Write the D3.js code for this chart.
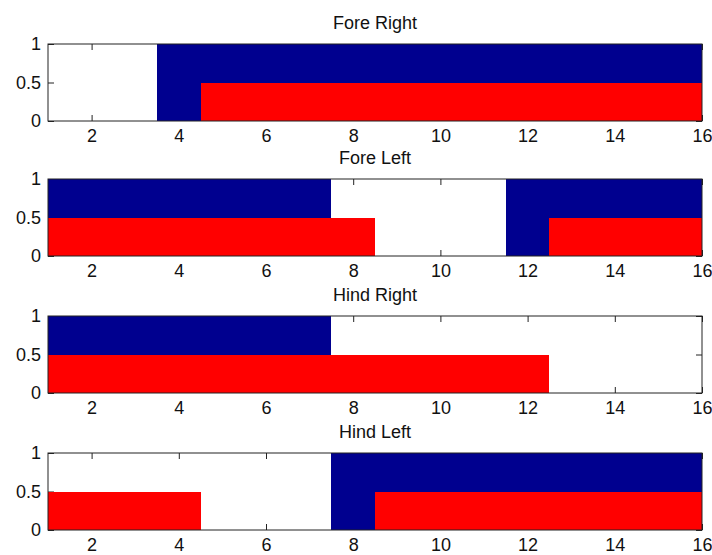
<!DOCTYPE html>
<html>
<head>
<meta charset="utf-8">
<script src="https://cdn.jsdelivr.net/npm/d3@7/dist/d3.min.js"></script>
<style>
  html, body { margin: 0; padding: 0; background: #fff; }
  svg { display: block; }
  text { font-family: "Liberation Sans", Arial, sans-serif; fill: #111; }
</style>
</head>
<body>
<svg id="chart" width="712" height="555"></svg>
<script>
// Step positions along the x axis (one bar per step)
const steps = [1, 2, 3, 4, 5, 6, 7, 8, 9, 10, 11, 12, 13, 14, 15, 16];

// Panel titles, one per limb
const panelTitles = ["Fore Right", "Fore Left", "Hind Right", "Hind Left"];

// Full-height (blue) series per limb
const blueForeRight = [0, 0, 0, 1, 1, 1, 1, 1, 1, 1, 1, 1, 1, 1, 1, 1];
const blueForeLeft  = [1, 1, 1, 1, 1, 1, 1, 0, 0, 0, 0, 1, 1, 1, 1, 1];
const blueHindRight = [1, 1, 1, 1, 1, 1, 1, 0, 0, 0, 0, 0, 0, 0, 0, 0];
const blueHindLeft  = [0, 0, 0, 0, 0, 0, 0, 1, 1, 1, 1, 1, 1, 1, 1, 1];

// Half-height (red) series per limb
const redForeRight = [0, 0, 0, 0, 0.5, 0.5, 0.5, 0.5, 0.5, 0.5, 0.5, 0.5, 0.5, 0.5, 0.5, 0.5];
const redForeLeft  = [0.5, 0.5, 0.5, 0.5, 0.5, 0.5, 0.5, 0.5, 0, 0, 0, 0, 0.5, 0.5, 0.5, 0.5];
const redHindRight = [0.5, 0.5, 0.5, 0.5, 0.5, 0.5, 0.5, 0.5, 0.5, 0.5, 0.5, 0.5, 0, 0, 0, 0];
const redHindLeft  = [0.5, 0.5, 0.5, 0.5, 0, 0, 0, 0, 0.5, 0.5, 0.5, 0.5, 0.5, 0.5, 0.5, 0.5];

// Axis ticks
const xTicks = [2, 4, 6, 8, 10, 12, 14, 16];
const yTicks = [0, 0.5, 1];
const yTickLabels = ["0", "0.5", "1"];

const blueSeries = [blueForeRight, blueForeLeft, blueHindRight, blueHindLeft];
const redSeries = [redForeRight, redForeLeft, redHindRight, redHindLeft];

// Layout
const plotLeft = 48, plotRight = 702;
const panelTops = [44, 179, 316, 453];
const panelHeight = 77;
const blue = "#00008f", red = "#ff0000";
const fontSize = 18;

const svg = d3.select("#chart");
const x = d3.scaleLinear().domain([1, 16]).range([plotLeft, plotRight]);
const y = d3.scaleLinear().domain([0, 1]).range([panelHeight, 0]);
const plotW = plotRight - plotLeft;

panelTitles.forEach((title, i) => {
  const g = svg.append("g").attr("transform", `translate(0,${panelTops[i]})`);

  const clipId = "clip" + i;
  g.append("clipPath").attr("id", clipId)
    .append("rect").attr("x", plotLeft).attr("y", 0)
    .attr("width", plotW).attr("height", panelHeight);

  // Inward tick marks on all four sides, labels on bottom and left
  const bottom = g.append("g").attr("transform", `translate(0,${panelHeight})`)
    .call(d3.axisBottom(x).tickValues(xTicks).tickFormat(d3.format("d"))
      .tickSizeInner(-6).tickSizeOuter(0).tickPadding(8));
  const top = g.append("g")
    .call(d3.axisTop(x).tickValues(xTicks).tickFormat("")
      .tickSizeInner(-6).tickSizeOuter(0));
  const left = g.append("g").attr("transform", `translate(${plotLeft},0)`)
    .call(d3.axisLeft(y).tickValues(yTicks).tickFormat((d, k) => yTickLabels[k])
      .tickSizeInner(-6).tickSizeOuter(0).tickPadding(7));
  const right = g.append("g").attr("transform", `translate(${plotRight},0)`)
    .call(d3.axisRight(y).tickValues(yTicks).tickFormat("")
      .tickSizeInner(-6).tickSizeOuter(0));

  [bottom, top, left, right].forEach(a => {
    a.select(".domain").remove();
    a.selectAll(".tick line").attr("stroke", "#222");
    a.selectAll("text").attr("font-size", fontSize)
      .attr("font-family", "'Liberation Sans', Arial, sans-serif").attr("fill", "#111");
  });

  // Bars: blue full-height series underneath, red half-height series on top
  const bars = g.append("g").attr("clip-path", `url(#${clipId})`);
  const drawSeries = (vals, color) => {
    bars.selectAll(null)
      .data(steps.map((s, k) => ({ s, v: vals[k] })).filter(d => d.v > 0))
      .join("rect")
      .attr("x", d => x(d.s - 0.5))
      .attr("width", d => x(d.s + 0.5) - x(d.s - 0.5))
      .attr("y", d => y(d.v))
      .attr("height", d => y(0) - y(d.v))
      .attr("fill", color)
      .attr("shape-rendering", "crispEdges");
  };
  drawSeries(blueSeries[i], blue);
  drawSeries(redSeries[i], red);

  // Axes box
  g.append("rect")
    .attr("x", plotLeft).attr("y", 0)
    .attr("width", plotW).attr("height", panelHeight)
    .attr("fill", "none").attr("stroke", "#222").attr("stroke-width", 1);

  g.append("text")
    .attr("x", (plotLeft + plotRight) / 2)
    .attr("y", -15.5)
    .attr("text-anchor", "middle")
    .attr("font-size", fontSize)
    .text(title);
});
</script>
</body>
</html>
